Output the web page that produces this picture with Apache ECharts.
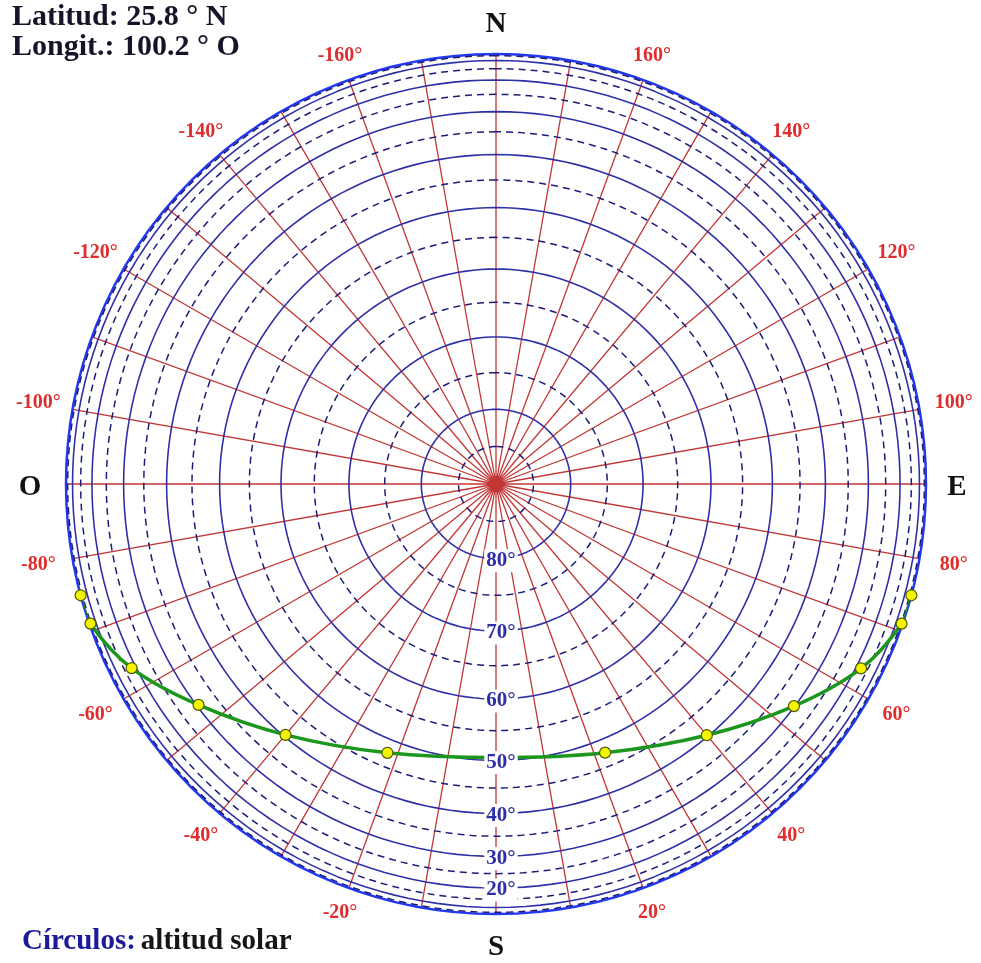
<!DOCTYPE html>
<html><head><meta charset="utf-8">
<script src="https://cdn.jsdelivr.net/npm/echarts@6/dist/echarts.min.js"></script>
<style>html,body{margin:0;padding:0;background:#fff}#c{width:981px;height:963px}</style>
</head><body><div id="c"></div>
<script>
// ---- data ----
const titleLines = ['Latitud: 25.8 ° N', 'Longit.: 100.2 ° O'];
const legendKey = 'Círculos:';
const legendText = 'altitud solar';
const azimuthLabelValues = [-160,-140,-120,-100,-80,-60,-40,-20,20,40,60,80,100,120,140,160];
const cardinalAzimuths = [180, 0, 90, -90];
const cardinalNames = ['N', 'S', 'E', 'O'];
const solidAltitudes = [10,20,30,40,50,60,70,80];
const dashedAltitudes = [5,15,25,35,45,55,65,75,85];
const altitudeLabelValues = [20,30,40,50,60,70,80];
const sunAzimuth  = [-75.0,-71.0,-63.2,-53.4,-40.0,-22.0, 0.0, 22.1, 40.0, 53.3, 63.2, 71.0, 75.0];
const sunAltitude = [  0.0,  4.0, 18.3, 30.5, 40.4, 47.6,50.5, 47.6, 40.3, 30.2, 18.0,  4.0,  0.0];
const sunMarked   = [true,true,true,true,true,true,false,true,true,true,true,true,true];

// ---- helpers / styles ----
const FONT = 'Liberation Serif, Times New Roman, serif';
const cardinalLabelGap = { N: 29, S: 34, E: 31, O: 36 };
const toR = alt => Math.cos(alt * Math.PI / 180);
function circleData(alt) {
  const r = toR(alt), d = [];
  for (let a = -180; a <= 180; a += 2) d.push([r, a]);
  return d;
}
function outOffset(az, d) {
  const t = az * Math.PI / 180;
  return [d * Math.sin(t), d * Math.cos(t)];
}
const hidden = { color: 'rgba(0,0,0,0)', opacity: 1 };

const series = [];
solidAltitudes.forEach(alt => series.push({
  type: 'line', coordinateSystem: 'polar', data: circleData(alt), symbol: 'none', silent: true,
  lineStyle: { color: '#3030a6', width: 1.6 }, z: 2
}));
dashedAltitudes.forEach(alt => series.push({
  type: 'line', coordinateSystem: 'polar', data: circleData(alt), symbol: 'none', silent: true,
  lineStyle: { color: '#1c1c78', width: 1.5, type: [7, 5] }, z: 2
}));
// sun path curve
series.push({
  type: 'line', coordinateSystem: 'polar', smooth: 0.35, symbol: 'none', silent: true,
  data: sunAzimuth.map((az, i) => [toR(sunAltitude[i]), az]),
  lineStyle: { color: '#1c961c', width: 3.5, opacity: 1 }, z: 5
});
// sun markers
series.push({
  type: 'scatter', coordinateSystem: 'polar', silent: true,
  data: sunAzimuth.map((az, i) => [toR(sunAltitude[i]), az]).filter((p, i) => sunMarked[i]),
  symbol: 'circle', symbolSize: 11,
  itemStyle: { color: '#f4f400', borderColor: '#4e5a00', borderWidth: 1.2, opacity: 1 }, z: 6
});
// altitude labels
series.push({
  type: 'scatter', coordinateSystem: 'polar', silent: true, symbolSize: 1,
  itemStyle: hidden,
  data: altitudeLabelValues.map(a => ({ value: [toR(a), 0], name: a + '°' })),
  label: { show: true, position: 'inside', offset: [5, 2], formatter: p => p.name, opacity: 1,
    fontFamily: FONT, fontWeight: 'bold', fontSize: 21, color: '#2e2ea8',
    backgroundColor: '#ffffff', padding: [1, 2] },
  z: 8
});
// azimuth labels
series.push({
  type: 'scatter', coordinateSystem: 'polar', silent: true, symbolSize: 1,
  itemStyle: hidden,
  data: azimuthLabelValues.map(az => {
    const s = Math.sin(az * Math.PI / 180);
    return { value: [1, az], name: az + '°', label: { offset: outOffset(az, 25 + 10 * s * s) } };
  }),
  label: { show: true, position: 'inside', formatter: p => p.name, opacity: 1,
    fontFamily: FONT, fontWeight: 'bold', fontSize: 20, color: '#e02c2c' },
  z: 8
});
// cardinal labels
series.push({
  type: 'scatter', coordinateSystem: 'polar', silent: true, symbolSize: 1,
  itemStyle: hidden,
  data: cardinalAzimuths.map((az, i) => {
    const name = cardinalNames[i];
    const off = outOffset(az, cardinalLabelGap[name]);
    off[1] += 4 * Math.abs(Math.sin(az * Math.PI / 180));
    return { value: [1, az], name: name, label: { offset: off } };
  }),
  label: { show: true, position: 'inside', formatter: p => p.name, opacity: 1,
    fontFamily: FONT, fontWeight: 'bold', fontSize: 29, color: '#111111' },
  z: 8
});

const chart = echarts.init(document.getElementById('c'), null, { renderer: 'canvas' });
chart.setOption({
  backgroundColor: '#ffffff',
  animation: false,
  title: [
    { text: titleLines.join('\n'), left: 12, top: 2, padding: 0,
      textStyle: { fontFamily: FONT, fontWeight: 'bold', fontSize: 30, lineHeight: 30, color: '#15152a' } },
    { text: '{a|' + legendKey + '} {b|' + legendText + '}', left: 22, top: 927, padding: 0,
      textStyle: { rich: {
        a: { fontFamily: FONT, fontWeight: 'bold', fontSize: 29, color: '#1c1c9a' },
        b: { fontFamily: FONT, fontWeight: 'bold', fontSize: 29, color: '#161616' } } } }
  ],
  polar: { center: [496, 484], radius: 430 },
  angleAxis: {
    type: 'value', min: -180, max: 180, interval: 10, startAngle: 90, clockwise: false,
    axisLine: { show: true, lineStyle: { color: '#2238ee', width: 2.5 } },
    axisTick: { show: false }, axisLabel: { show: false },
    splitLine: { show: true, lineStyle: { color: '#c23636', width: 1.3 } }
  },
  radiusAxis: {
    type: 'value', min: 0, max: 1,
    axisLine: { show: false }, axisTick: { show: false }, axisLabel: { show: false }, splitLine: { show: false }
  },
  series: series
});
</script>
</body></html>
